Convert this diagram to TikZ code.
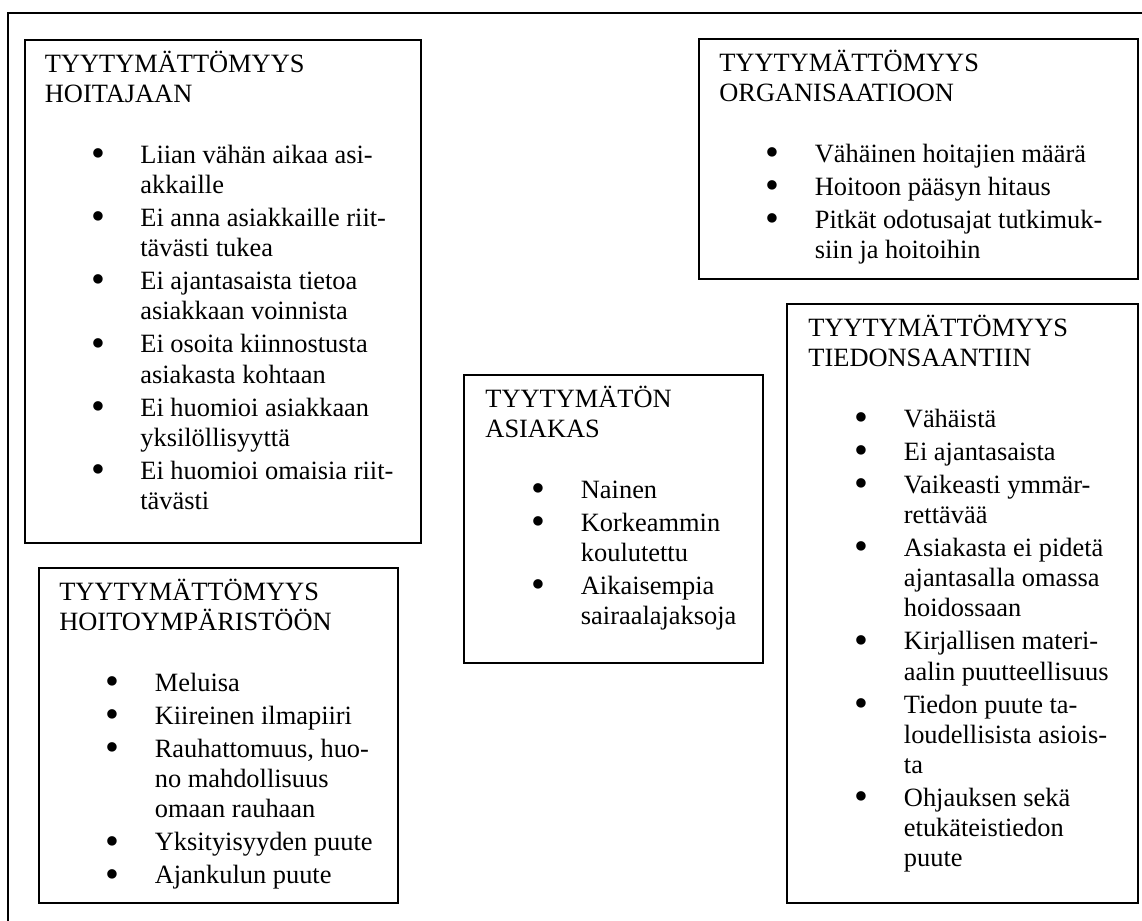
\documentclass[tikz,border=0pt]{standalone}
\usepackage{fontspec}
\setmainfont{Liberation Serif}
\usetikzlibrary{positioning}

% luettelon rivit: luetelmamerkki + teksti, ja jatkorivi
\newcommand{\bul}[1]{\hspace*{21pt}\makebox[22.4pt][l]{\raisebox{-1.5pt}{\scalebox{1.5}{\textbullet}}}#1}
\newcommand{\cnt}[1]{\hspace*{43.4pt}#1}

\begin{document}
\begin{tikzpicture}[
    x=0.4545pt, y=-0.4545pt,
    box/.style   = {rectangle, draw, line width=0.8pt, anchor=north west, inner sep=0pt},
    txt/.style   = {inner sep=0pt, align=left, font=\fontsize{12pt}{13.7pt}\selectfont},
    frame/.style = {line width=0.8pt}
]
\useasboundingbox (0,0) rectangle (1142,920);
\clip (0,0) rectangle (1142,920);

% --- Kehys ---
\coordinate (kulma) at (8,13);
\draw[frame] (1160,13) -- (kulma) -- (8,940);

% --- Laatikot ---
\node[box, minimum width=180pt,   minimum height=228.6pt] (hoitaja) at (24,39) {};
\node[box, minimum width=199.5pt, minimum height=109.1pt] (organis) at (698,38) {};
\node[box, minimum width=135.9pt, minimum height=130.9pt] (asiakas) at (463,374) {};
\node[box, minimum width=159.5pt, minimum height=272.2pt] (tiedon) at (786,303) {};
\node[box, minimum width=163.2pt, minimum height=152.3pt] (ympar) at (38,567) {};

% --- Tekstit ---
\node[txt, below right=0pt and 9.3pt of hoitaja.north west] (hoitajaT) {\rule{0pt}{15pt}TYYTYMÄTTÖMYYS\\
HOITAJAAN\\[13.8pt]
\bul{Liian vähän aikaa asi-}\\
\cnt{akkaille}\\[1.35pt]
\bul{Ei anna asiakkaille riit-}\\
\cnt{tävästi tukea}\\[1.35pt]
\bul{Ei ajantasaista tietoa}\\
\cnt{asiakkaan voinnista}\\[1.35pt]
\bul{Ei osoita kiinnostusta}\\
\cnt{asiakasta kohtaan}\\[1.35pt]
\bul{Ei huomioi asiakkaan}\\
\cnt{yksilöllisyyttä}\\[1.35pt]
\bul{Ei huomioi omaisia riit-}\\
\cnt{tävästi}};

\node[txt, below right=0pt and 9.5pt of organis.north west] (organisT) {\rule{0pt}{15pt}TYYTYMÄTTÖMYYS\\
ORGANISAATIOON\\[13.8pt]
\bul{Vähäinen hoitajien määrä}\\[1.35pt]
\bul{Hoitoon pääsyn hitaus}\\[1.35pt]
\bul{Pitkät odotusajat tutkimuk-}\\
\cnt{siin ja hoitoihin}};

\node[txt, below right=0pt and 10pt of asiakas.north west] (asiakasT) {\rule{0pt}{15pt}TYYTYMÄTÖN\\
ASIAKAS\\[13.8pt]
\bul{Nainen}\\[1.35pt]
\bul{Korkeammin}\\
\cnt{koulutettu}\\[1.35pt]
\bul{Aikaisempia}\\
\cnt{sairaalajaksoja}};

\node[txt, below right=0pt and 10pt of tiedon.north west] (tiedonT) {\rule{0pt}{15pt}TYYTYMÄTTÖMYYS\\
TIEDONSAANTIIN\\[13.8pt]
\bul{Vähäistä}\\[1.35pt]
\bul{Ei ajantasaista}\\[1.35pt]
\bul{Vaikeasti ymmär-}\\
\cnt{rettävää}\\[1.35pt]
\bul{Asiakasta ei pidetä}\\
\cnt{ajantasalla omassa}\\
\cnt{hoidossaan}\\[1.35pt]
\bul{Kirjallisen materi-}\\
\cnt{aalin puutteellisuus}\\[1.35pt]
\bul{Tiedon puute ta-}\\
\cnt{loudellisista asiois-}\\
\cnt{ta}\\[1.35pt]
\bul{Ohjauksen sekä}\\
\cnt{etukäteistiedon}\\
\cnt{puute}};

\node[txt, below right=0pt and 9.5pt of ympar.north west] (symparT) {\rule{0pt}{15pt}TYYTYMÄTTÖMYYS\\
HOITOYMPÄRISTÖÖN\\[13.8pt]
\bul{Meluisa}\\[1.35pt]
\bul{Kiireinen ilmapiiri}\\[1.35pt]
\bul{Rauhattomuus, huo-}\\
\cnt{no mahdollisuus}\\
\cnt{omaan rauhaan}\\[1.35pt]
\bul{Yksityisyyden puute}\\[1.35pt]
\bul{Ajankulun puute}};

\end{tikzpicture}
\end{document}
